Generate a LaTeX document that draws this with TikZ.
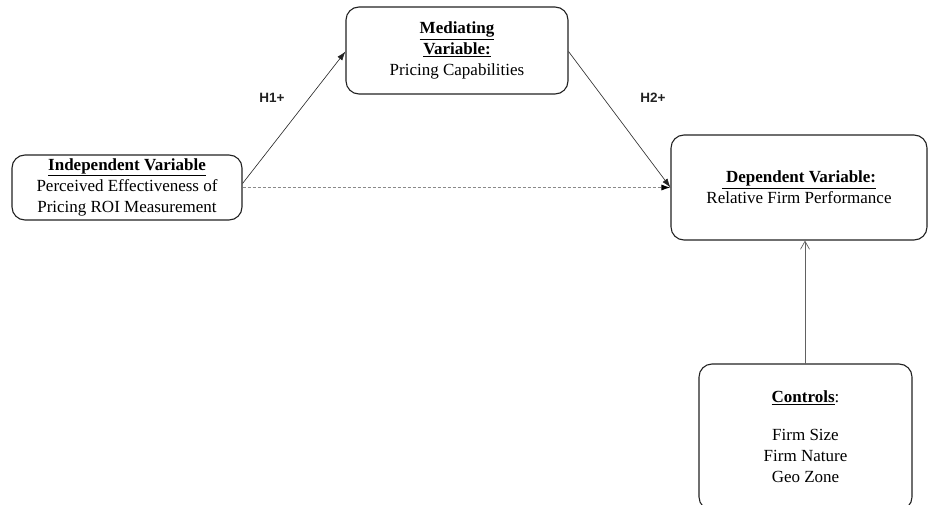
\documentclass[tikz,border=0pt]{standalone}
\usepackage{fontspec}
\setmainfont{Liberation Serif}
\newfontfamily\arialfont{Liberation Sans}
\usetikzlibrary{arrows.meta}
\definecolor{linecol}{HTML}{222222}
\definecolor{dashcol}{HTML}{8A8A8A}
\tikzset{
  varbox/.style={draw=linecol, line width=1.1pt, rounded corners=13pt, align=center,
    font=\fontsize{17}{21}\selectfont, inner sep=0pt},
  hyplabel/.style={font=\arialfont\bfseries\fontsize{13.5}{16}\selectfont, text=linecol},
  patharrow/.style={draw=linecol, line width=0.6pt, -{Latex[length=9pt,width=6pt]}},
  dasharrow/.style={draw=dashcol, line width=1pt, dash pattern=on 3pt off 2pt, -{Latex[length=9pt,width=6pt,color=black]}},
  ctlarrow/.style={draw=dashcol!70!black, line width=0.7pt, -{Straight Barb[length=8pt,width=9pt]}}
}
\begin{document}
\begin{tikzpicture}[x=1pt,y=-1pt]
\clip (0,0) rectangle (928,505);
\fill[white] (0,0) rectangle (928,505);

\node[varbox, minimum width=230pt, minimum height=65pt] (ind) at (127,187.5)
  {\textbf{\underline{Independent Variable}}\\Perceived Effectiveness of\\Pricing ROI Measurement};
\node[varbox, minimum width=222pt, minimum height=87pt] (med) at (457,50.5)
  {\textbf{\underline{Mediating}}\\\textbf{\underline{Variable:}}\\Pricing Capabilities};
\node[varbox, minimum width=256pt, minimum height=105pt] (dep) at (799,187.5)
  {\textbf{\underline{\ Dependent Variable:}}\\Relative Firm Performance};
\node[varbox, minimum width=213pt, minimum height=146pt] (ctl) at (805.5,437)
  {\textbf{\underline{Controls}}:\\[17pt]Firm Size\\Firm Nature\\Geo Zone};

\node[hyplabel] (h1) at (272,98) {H1+};
\node[hyplabel] (h2) at (653,98) {H2+};

\draw[patharrow] ([yshift=4pt]ind.east) -- ([yshift=-1pt]med.west);
\draw[patharrow] ([yshift=-1pt]med.east) -- (dep.west);
\draw[dasharrow] (ind.east) -- (dep.west);
\coordinate (ctltop) at (805,364);
\draw[ctlarrow] (ctltop) -- (ctltop |- dep.south);
\end{tikzpicture}
\end{document}
